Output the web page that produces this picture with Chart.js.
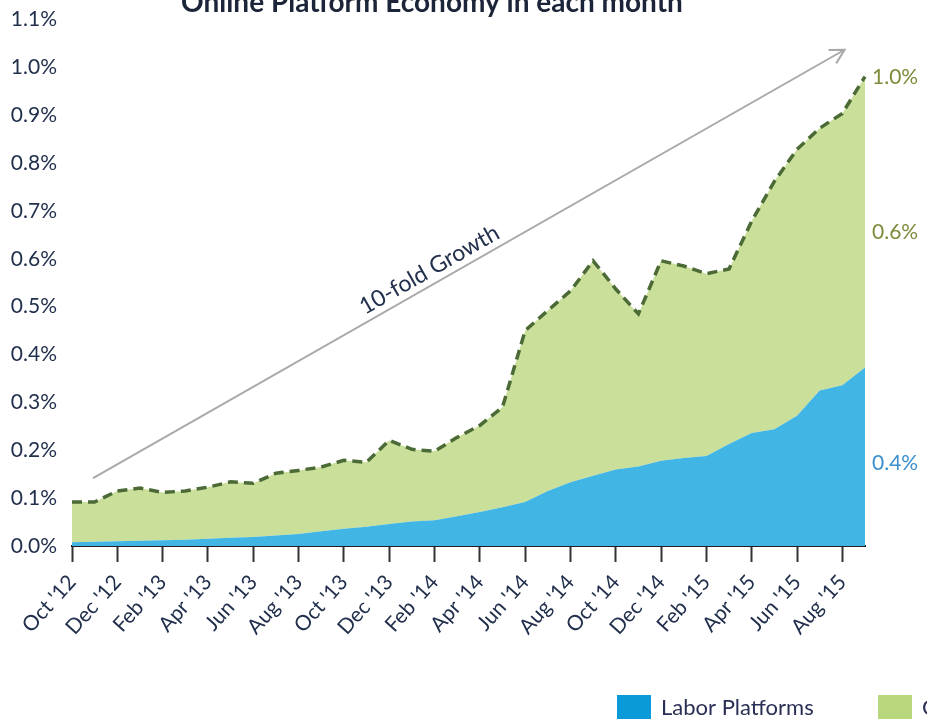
<!DOCTYPE html>
<html>
<head>
<meta charset="utf-8">
<script src="https://cdn.jsdelivr.net/npm/chart.js@4.4.1/dist/chart.umd.min.js"></script>
<style>
  html, body { margin: 0; padding: 0; background: #fff; overflow: hidden; }
  #wrap { position: relative; width: 927px; height: 722px; }
</style>
</head>
<body>
<div id="wrap"><canvas id="platformChart" width="927" height="722"></canvas></div>
<script>
// Share of adults in the online platform economy, by month (percent)
const months = [
    "Oct '12", "Nov '12", "Dec '12",
    "Jan '13", "Feb '13", "Mar '13", "Apr '13", "May '13", "Jun '13",
    "Jul '13", "Aug '13", "Sep '13", "Oct '13", "Nov '13", "Dec '13",
    "Jan '14", "Feb '14", "Mar '14", "Apr '14", "May '14", "Jun '14",
    "Jul '14", "Aug '14", "Sep '14", "Oct '14", "Nov '14", "Dec '14",
    "Jan '15", "Feb '15", "Mar '15", "Apr '15", "May '15", "Jun '15",
    "Jul '15", "Aug '15", "Sep '15"
];

const laborShare = [
    0.008, 0.009, 0.010, 0.011, 0.012, 0.013, 0.015, 0.017, 0.019,
    0.022, 0.025, 0.031, 0.036, 0.040, 0.046, 0.051, 0.054, 0.062,
    0.071, 0.081, 0.092, 0.115, 0.133, 0.147, 0.160, 0.166, 0.178,
    0.184, 0.188, 0.213, 0.236, 0.244, 0.272, 0.325, 0.336, 0.373
];

// top of the stack (labor + capital), drawn dashed
const totalShare = [
    0.092, 0.092, 0.115, 0.121, 0.112, 0.115, 0.123, 0.134, 0.131,
    0.152, 0.158, 0.165, 0.179, 0.175, 0.221, 0.202, 0.198, 0.227,
    0.252, 0.290, 0.450, 0.492, 0.533, 0.596, 0.537, 0.485, 0.596,
    0.585, 0.569, 0.579, 0.679, 0.762, 0.829, 0.873, 0.904, 0.981
];

const yTicks = [0, 0.1, 0.2, 0.3, 0.4, 0.5, 0.6, 0.7, 0.8, 0.9, 1.0, 1.1];

const seriesNames = ['Labor Platforms', 'Capital Platforms'];
const endLabels = ['1.0%', '0.6%', '0.4%'];
const endLabelValues = [0.98, 0.655, 0.173];

const TITLE = 'Online Platform Economy in each month';
const ARROW_TEXT = '10-fold Growth';
// arrow ends in data units (month index, percent)
const arrowFrom = { x: 0.93, y: 0.142 };
const arrowTo = { x: 34.1, y: 1.037 };

const BLUE = '#41b5e3';
const GREEN = '#cadf9a';
const DASH = '#4b6a36';
const NAVY = '#22304d';

// annotations: title, arrow, end labels, legend
const annotate = {
    id: 'annotate',
    afterDraw(chart) {
        const { ctx, chartArea, scales } = chart;
        const xs = scales.x, ys = scales.y;
        ctx.save();

        // title (top of it is cropped off)
        ctx.font = 'bold 28px Lato';
        ctx.fillStyle = '#1b2438';
        ctx.textAlign = 'center';
        ctx.textBaseline = 'alphabetic';
        ctx.fillText(TITLE, 432, 12);

        // growth arrow
        const x1 = xs.getPixelForValue(arrowFrom.x), y1 = ys.getPixelForValue(arrowFrom.y);
        const x2 = xs.getPixelForValue(arrowTo.x), y2 = ys.getPixelForValue(arrowTo.y);
        const ang = Math.atan2(y2 - y1, x2 - x1);
        ctx.strokeStyle = '#a9a9a9';
        ctx.lineWidth = 2;
        ctx.beginPath();
        ctx.moveTo(x1, y1);
        ctx.lineTo(x2, y2);
        ctx.stroke();
        const head = 16, spread = 0.5;
        ctx.beginPath();
        ctx.moveTo(x2 - head * Math.cos(ang - spread), y2 - head * Math.sin(ang - spread));
        ctx.lineTo(x2, y2);
        ctx.lineTo(x2 - head * Math.cos(ang + spread), y2 - head * Math.sin(ang + spread));
        ctx.stroke();

        // arrow caption
        const t = 0.457;
        const mx = x1 + (x2 - x1) * t, my = y1 + (y2 - y1) * t;
        ctx.translate(mx, my);
        ctx.rotate(ang);
        ctx.font = '23px Lato';
        ctx.fillStyle = NAVY;
        ctx.textAlign = 'center';
        ctx.fillText(ARROW_TEXT, 0, -7);
        ctx.setTransform(1, 0, 0, 1, 0, 0);

        // end-of-series labels
        ctx.font = '21px Lato';
        ctx.textAlign = 'left';
        ctx.textBaseline = 'middle';
        endLabels.forEach((txt, i) => {
            ctx.fillStyle = i < 2 ? '#7e8b3a' : '#3b8fcc';
            ctx.fillText(txt, chartArea.right + 7, ys.getPixelForValue(endLabelValues[i]));
        });

        // legend (cropped at right edge)
        const legendColors = ['#0a9ad8', '#b8d67c'];
        const legendX = [617, 878];
        ctx.font = '22px Lato';
        ctx.textBaseline = 'middle';
        seriesNames.forEach((name, i) => {
            ctx.fillStyle = legendColors[i];
            ctx.fillRect(legendX[i], 695, 34, 24);
            ctx.fillStyle = '#2a2f55';
            ctx.fillText(name, legendX[i] + 44, 708);
        });
        ctx.restore();
    }
};

const ctx = document.getElementById('platformChart').getContext('2d');
new Chart(ctx, {
    type: 'line',
    data: {
        labels: months,
        datasets: [
            {
                label: seriesNames[0],
                data: laborShare,
                borderWidth: 0,
                borderColor: BLUE,
                backgroundColor: BLUE,
                fill: 'origin',
                pointRadius: 0,
                tension: 0
            },
            {
                label: seriesNames[1],
                data: totalShare,
                borderWidth: 3.5,
                borderColor: DASH,
                borderDash: [10, 6],
                backgroundColor: GREEN,
                fill: '-1',
                pointRadius: 0,
                tension: 0
            }
        ]
    },
    options: {
        responsive: false,
        animation: false,
        layout: { padding: { top: 18, right: 62, left: 0, bottom: 0 } },
        plugins: {
            legend: { display: false },
            title: { display: false },
            tooltip: { enabled: false }
        },
        scales: {
            x: {
                offset: false,
                grid: {
                    display: true,
                    drawOnChartArea: false,
                    drawTicks: true,
                    tickLength: 16,
                    tickColor: '#333',
                    tickWidth: 2
                },
                border: { display: true, color: '#1e1e1e', width: 2 },
                ticks: {
                    autoSkip: false,
                    minRotation: 48,
                    maxRotation: 48,
                    padding: 8,
                    color: NAVY,
                    font: { family: 'Lato', size: 21 },
                    callback: (v, i) => (i % 2 === 0 ? months[i] : null)
                },
                afterFit: (scale) => { scale.height = 176; }
            },
            y: {
                min: 0,
                max: 1.1,
                afterBuildTicks: (scale) => { scale.ticks = yTicks.map(v => ({ value: v })); },
                grid: { display: false },
                border: { display: false },
                ticks: {
                    padding: 7,
                    color: NAVY,
                    font: { family: 'Lato', size: 21 },
                    callback: (v) => v.toFixed(1) + '%'
                },
                afterFit: (scale) => { scale.width = 72; }
            }
        }
    },
    plugins: [annotate]
});
</script>
</body>
</html>
